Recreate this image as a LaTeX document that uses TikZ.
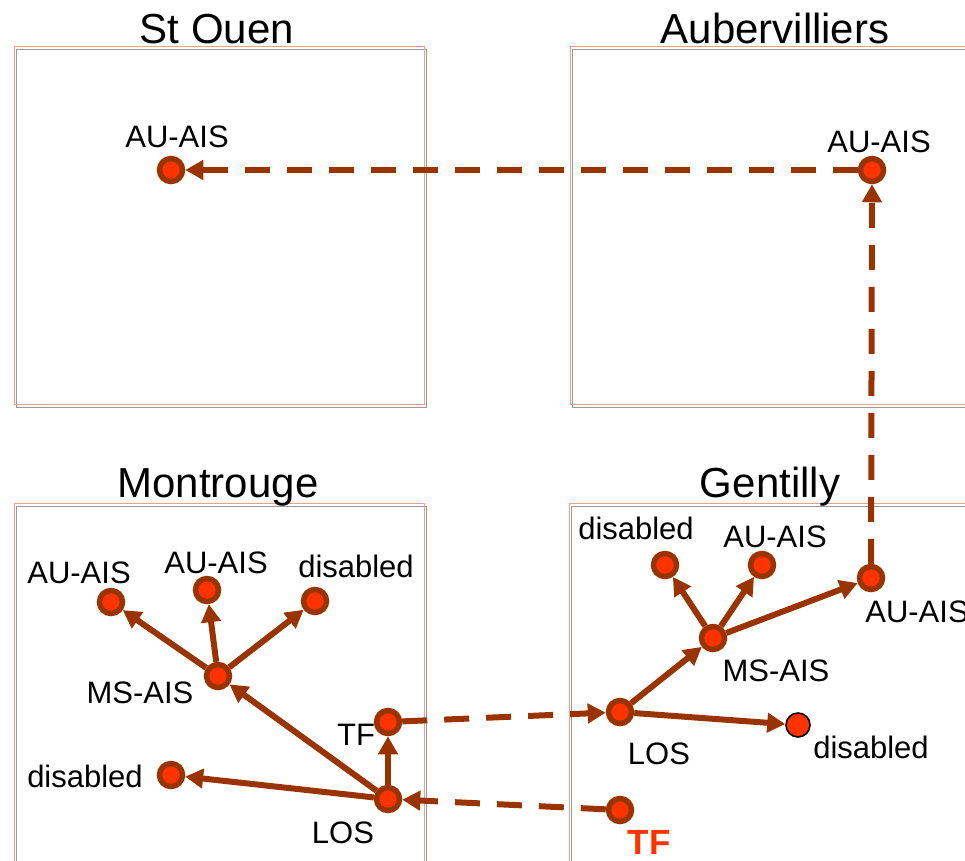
\documentclass[tikz,border=0pt]{standalone}
\usepackage{fontspec}
\setmainfont{Liberation Sans}
\usetikzlibrary{arrows.meta}

\definecolor{linkbrown}{HTML}{993300}
\definecolor{siteorange}{HTML}{FF3300}
\definecolor{frameline}{HTML}{F2A08C}
\definecolor{frameshade}{HTML}{9A9A9A}

\tikzset{
  site/.style={circle, draw=linkbrown, fill=siteorange, line width=5.5pt,
    minimum size=23pt, inner sep=0pt},
  plainsite/.style={circle, draw=black, fill=siteorange, line width=1.6pt,
    minimum size=24pt, inner sep=0pt},
  lbl/.style={font=\fontsize{31}{31}\selectfont, inner sep=0pt, anchor=base},
  redlbl/.style={font=\fontsize{35}{35}\selectfont\bfseries, text=siteorange,
    inner sep=0pt, anchor=base},
  areatitle/.style={font=\fontsize{42}{42}\selectfont, inner sep=0pt, anchor=base},
  link/.style={draw=linkbrown, line width=6pt,
    -{Triangle[length=18pt,width=19pt]}},
  dlink/.style={link, dash pattern=on 25pt off 17pt},
  frame/.style={draw=frameline, line width=1pt},
  frameshadow/.style={draw=frameshade, line width=1pt},
}

\begin{document}
\begin{tikzpicture}[x=1pt, y=-1pt]
  \useasboundingbox (0,0) rectangle (965,860);
  \clip (0,0) rectangle (965,860);

  % area frames: a grey outline just behind a salmon one
  \foreach \fx/\fy/\fw/\fh in {14/46/410/358, 570/46/420/358,
                               14/503/410/380, 569/503/420/380}{
    \draw[frameshadow] (\fx+2.5,\fy+3) rectangle ++(\fw,\fh);
    \draw[frame] (\fx,\fy) rectangle ++(\fw,\fh);
  }

  % area titles
  \node[areatitle] (tStOuen) at (217,43) {St Ouen};
  \node[areatitle] (tAuber)  at (775,43) {Aubervilliers};
  \node[areatitle] (tMont)   at (218,497) {Montrouge};
  \node[areatitle] (tGent)   at (770,497) {Gentilly};

  % St Ouen and Aubervilliers
  \node[site] (soAU) at (171,170) {};
  \node[lbl] (soAUl) at (177,147) {AU-AIS};
  \node[site] (abAU) at (872,170) {};
  \node[lbl] (abAUl) at (879,152) {AU-AIS};

  % Montrouge
  \node[site] (mAUa) at (111,602) {};
  \node[lbl]  (mAUal) at (79,583) {AU-AIS};
  \node[site] (mAUb) at (207,590) {};
  \node[lbl]  (mAUbl) at (216,573) {AU-AIS};
  \node[site] (mDisA) at (315,601) {};
  \node[lbl]  (mDisAl) at (356,577) {disabled};
  \node[site] (mMS) at (218,676) {};
  \node[lbl]  (mMSl) at (140,703) {MS-AIS};
  \node[site] (mTF) at (388,722) {};
  \node[lbl]  (mTFl) at (356,745) {TF};
  \node[site] (mLOS) at (388,799) {};
  \node[lbl]  (mLOSl) at (343,843) {LOS};
  \node[site] (mDisB) at (171,775) {};
  \node[lbl]  (mDisBl) at (85,787) {disabled};

  % Gentilly
  \node[site] (gDisA) at (665,565) {};
  \node[lbl]  (gDisAl) at (636,539) {disabled};
  \node[site] (gAUa) at (762,565) {};
  \node[lbl]  (gAUal) at (775,547) {AU-AIS};
  \node[site] (gAUb) at (871,578) {};
  \node[lbl]  (gAUbl) at (917,622) {AU-AIS};
  \node[site] (gMS) at (713,638) {};
  \node[lbl]  (gMSl) at (776,681) {MS-AIS};
  \node[site] (gLOS) at (620,712) {};
  \node[lbl]  (gLOSl) at (659,764) {LOS};
  \node[plainsite] (gDisB) at (798,725) {};
  \node[lbl]  (gDisBl) at (871,758) {disabled};
  \node[site] (gTF) at (620,810) {};
  \node[redlbl] (gTFl) at (649,854) {TF};

  % links inside Montrouge
  \draw[link] (mMS) -- (mAUa);
  \draw[link] (mMS) -- (mAUb);
  \draw[link] (mMS) -- (mDisA);
  \draw[link] (mLOS) -- (mMS);
  \draw[link] (mLOS) -- (mTF);
  \draw[link] (mLOS) -- (mDisB);

  % links inside Gentilly
  \draw[link] (gLOS) -- (gMS);
  \draw[link] (gLOS) -- (gDisB);
  \draw[link] (gMS) -- (gDisA);
  \draw[link] (gMS) -- (gAUa);
  \draw[link] (gMS) -- (gAUb);

  % links between areas
  \draw[dlink] (mTF) -- (gLOS);
  \draw[dlink] (gTF) -- (mLOS);
  \draw[dlink] (gAUb) -- (abAU);
  \draw[dlink] (abAU) -- (soAU);
\end{tikzpicture}
\end{document}
